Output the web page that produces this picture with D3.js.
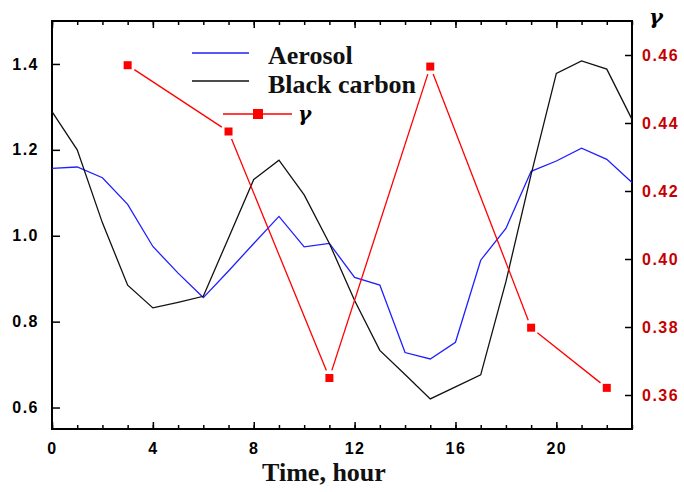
<!DOCTYPE html>
<html>
<head>
<meta charset="utf-8">
<script src="https://cdnjs.cloudflare.com/ajax/libs/d3/7.8.5/d3.min.js"></script>
<style>
	html, body { margin: 0; padding: 0; background: #fff; }
	svg { display: block; }
	.tick-label { font-family: 'Liberation Sans', Arial, sans-serif; font-weight: bold; font-size: 16px; letter-spacing: 1.5px; }
	.serif { font-family: 'Liberation Serif', 'Times New Roman', serif; font-weight: bold; }
	.greek { font-family: 'DejaVu Serif', serif; font-weight: bold; font-style: italic; }
</style>
</head>
<body>
<svg id="chart" width="684" height="492"></svg>
<script>
"use strict";

// Data
var hours = [0, 1, 2, 3, 4, 5, 6, 7, 8, 9, 10, 11, 12, 13, 14, 15, 16, 17, 18, 19, 20, 21, 22, 23];
var aerosol = [1.157, 1.160, 1.135, 1.073, 0.975, 0.913, 0.856, 0.918, 0.982, 1.045, 0.974, 0.982,
	0.903, 0.885, 0.728, 0.713, 0.752, 0.943, 1.017, 1.150, 1.174, 1.204, 1.178, 1.124];
var blackCarbon = [1.289, 1.200, 1.030, 0.885, 0.832, 0.845, 0.859, 0.995, 1.131, 1.176, 1.095, 0.982,
	0.849, 0.733, 0.677, 0.620, 0.648, 0.676, 0.893, 1.143, 1.378, 1.407, 1.388, 1.271];
var gammaHours = [3, 7, 11, 15, 19, 22];
var gamma = [0.457, 0.4375, 0.365, 0.4566, 0.3798, 0.3621];

var xTicks = [0, 4, 8, 12, 16, 20];
var leftTicks = [0.6, 0.8, 1.0, 1.2, 1.4];
var rightTicks = [0.36, 0.38, 0.40, 0.42, 0.44, 0.46];

var colors = {
	aerosol: '#1f1fff',
	black: '#111111',
	gamma: '#ff0000',
	rightText: '#c40000'
};

var margin = { left: 52, right: 632, top: 21, bottom: 429 };

var svg = d3.select('#chart');

var x = d3.scaleLinear().domain([0, 23]).range([margin.left, margin.right]);
var yL = d3.scaleLinear().domain([0.55, 1.5]).range([margin.bottom, margin.top]);
var yR = d3.scaleLinear().domain([0.35, 0.47]).range([margin.bottom, margin.top]);

// Axes (ticks inside the frame)
var minorHours = d3.range(0, 24);

var bottomMinor = d3.axisBottom(x).tickValues(minorHours).tickSize(-4).tickFormat('');
var bottomMajor = d3.axisBottom(x).tickValues(xTicks).tickSize(-7).tickPadding(14)
	.tickFormat(d3.format('d'));
var topMinor = d3.axisTop(x).tickValues(minorHours).tickSize(-4).tickFormat('');
var topMajor = d3.axisTop(x).tickValues(xTicks).tickSize(-7).tickFormat('');
var leftAxis = d3.axisLeft(yL).tickValues(leftTicks).tickSize(-8).tickPadding(13)
	.tickFormat(d3.format('.1f'));
var rightAxis = d3.axisRight(yR).tickValues(rightTicks).tickSize(-7).tickPadding(10)
	.tickFormat(d3.format('.2f'));

function styleAxis(g) {
	g.select('.domain').remove();
	g.selectAll('.tick line').attr('stroke', '#000').attr('stroke-width', 1.5);
	g.selectAll('.tick text').attr('class', 'tick-label').attr('fill', '#000');
}

svg.append('g').attr('transform', 'translate(0,' + margin.bottom + ')').call(bottomMinor).call(styleAxis);
svg.append('g').attr('transform', 'translate(0,' + margin.bottom + ')').call(bottomMajor).call(styleAxis);
svg.append('g').attr('transform', 'translate(0,' + margin.top + ')').call(topMinor).call(styleAxis);
svg.append('g').attr('transform', 'translate(0,' + margin.top + ')').call(topMajor).call(styleAxis);
svg.append('g').attr('transform', 'translate(' + margin.left + ',0)').call(leftAxis).call(styleAxis);

var gRight = svg.append('g').attr('transform', 'translate(' + margin.right + ',0)').call(rightAxis).call(styleAxis);
gRight.selectAll('.tick text').attr('fill', colors.rightText);

// Frame
svg.append('rect')
	.attr('x', margin.left)
	.attr('y', margin.top)
	.attr('width', margin.right - margin.left)
	.attr('height', margin.bottom - margin.top)
	.attr('fill', 'none')
	.attr('stroke', '#000')
	.attr('stroke-width', 2);

// Lines
var lineLeft = d3.line()
	.x(function(d, i) { return x(hours[i]); })
	.y(function(d) { return yL(d); });

svg.append('path')
	.attr('d', lineLeft(aerosol))
	.attr('fill', 'none')
	.attr('stroke', colors.aerosol)
	.attr('stroke-width', 1.3);

svg.append('path')
	.attr('d', lineLeft(blackCarbon))
	.attr('fill', 'none')
	.attr('stroke', colors.black)
	.attr('stroke-width', 1.3);

// Gamma: segments stop short of the markers
var gammaPts = gamma.map(function(d, i) { return [x(gammaHours[i]), yR(d)]; });
var gap = 8;
var segs = [];
for (var i = 0; i < gammaPts.length - 1; i++) {
	var a = gammaPts[i], b = gammaPts[i + 1];
	var dx = b[0] - a[0], dy = b[1] - a[1];
	var len = Math.sqrt(dx * dx + dy * dy);
	segs.push([
		[a[0] + dx / len * gap, a[1] + dy / len * gap],
		[b[0] - dx / len * gap, b[1] - dy / len * gap]
	]);
}

svg.selectAll('.gamma-seg')
	.data(segs)
	.enter().append('line')
	.attr('class', 'gamma-seg')
	.attr('x1', function(d) { return d[0][0]; })
	.attr('y1', function(d) { return d[0][1]; })
	.attr('x2', function(d) { return d[1][0]; })
	.attr('y2', function(d) { return d[1][1]; })
	.attr('stroke', colors.gamma)
	.attr('stroke-width', 1.3);

svg.selectAll('.gamma-pt')
	.data(gammaPts)
	.enter().append('rect')
	.attr('class', 'gamma-pt')
	.attr('x', function(d) { return d[0] - 4; })
	.attr('y', function(d) { return d[1] - 4; })
	.attr('width', 8)
	.attr('height', 8)
	.attr('fill', colors.gamma);

// Legend
var legend = svg.append('g');

legend.append('line')
	.attr('x1', 192).attr('x2', 249).attr('y1', 53).attr('y2', 53)
	.attr('stroke', colors.aerosol).attr('stroke-width', 1.3);
legend.append('text')
	.attr('class', 'serif').attr('x', 268).attr('y', 64)
	.attr('font-size', 26).attr('fill', '#111')
	.text('Aerosol');

legend.append('line')
	.attr('x1', 192).attr('x2', 249).attr('y1', 81).attr('y2', 81)
	.attr('stroke', colors.black).attr('stroke-width', 1.3);
legend.append('text')
	.attr('class', 'serif').attr('x', 268).attr('y', 93)
	.attr('font-size', 26).attr('fill', '#111')
	.text('Black carbon');

legend.append('line')
	.attr('x1', 223).attr('x2', 292).attr('y1', 114).attr('y2', 114)
	.attr('stroke', colors.gamma).attr('stroke-width', 1.3);
legend.append('rect')
	.attr('x', 253).attr('y', 109).attr('width', 10).attr('height', 10)
	.attr('fill', colors.gamma);
legend.append('text')
	.attr('class', 'greek').attr('x', 298).attr('y', 121)
	.attr('font-size', 20).attr('fill', '#000')
	.text('γ');

// Axis titles
svg.append('text')
	.attr('class', 'serif')
	.attr('x', 324).attr('y', 481)
	.attr('text-anchor', 'middle')
	.attr('font-size', 26)
	.attr('fill', '#111')
	.text('Time, hour');

svg.append('text')
	.attr('class', 'greek')
	.attr('x', 656).attr('y', 24)
	.attr('text-anchor', 'middle')
	.attr('font-size', 21)
	.attr('fill', '#000')
	.text('γ');
</script>
</body>
</html>
